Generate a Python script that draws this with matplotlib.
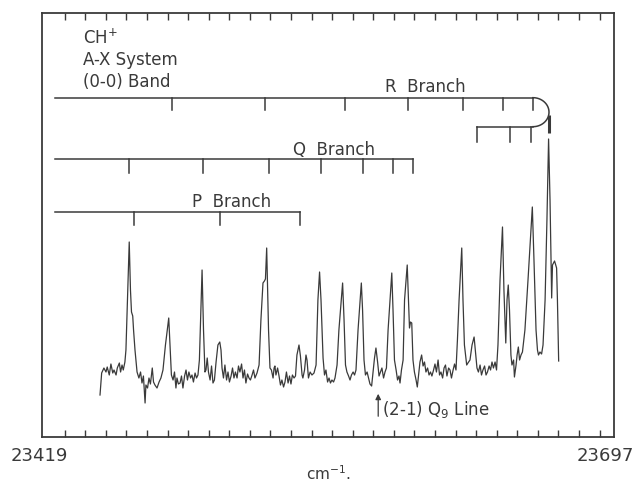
import numpy as np
import matplotlib.pyplot as plt

# CH+ A-X (0-0) band, recorded trace (cm-1, arbitrary intensity)
wavenumber = [
    23447.2, 23448.0, 23449.1, 23450.1, 23450.7, 23451.7, 23452.5, 23453.4, 23454.0, 23455.0,
    23455.6, 23456.6, 23457.2, 23457.9, 23458.5, 23459.3, 23459.8, 23461.4, 23462.0, 23462.5,
    23463.1, 23463.5, 23464.2, 23465.2, 23466.1, 23466.9, 23467.6, 23468.3, 23469.1, 23469.5,
    23470.3, 23471.0, 23471.7, 23472.6, 23473.2, 23473.9, 23474.9, 23475.9, 23476.8, 23477.8,
    23479.0, 23480.6, 23481.2, 23481.9, 23482.7, 23483.4, 23484.1, 23484.6, 23485.3, 23486.1,
    23486.8, 23487.5, 23488.3, 23489.0, 23489.7, 23490.4, 23491.2, 23491.9, 23492.6, 23493.4,
    23494.1, 23494.8, 23495.5, 23496.8, 23497.5, 23498.2, 23498.7, 23499.3, 23499.9, 23500.7,
    23501.4, 23502.1, 23502.8, 23503.6, 23504.5, 23505.4, 23506.0, 23506.5, 23507.2, 23507.9,
    23508.7, 23509.4, 23510.1, 23510.9, 23511.6, 23512.3, 23513.0, 23513.8, 23514.5, 23515.2,
    23516.0, 23516.7, 23517.4, 23518.1, 23518.9, 23519.6, 23520.3, 23521.1, 23521.8, 23522.5,
    23523.5, 23524.5, 23525.4, 23526.4, 23527.1, 23527.6, 23528.2, 23528.6, 23529.1, 23529.8,
    23530.5, 23531.3, 23531.8, 23532.2, 23532.7, 23533.5, 23534.2, 23534.9, 23535.6, 23536.4,
    23537.1, 23537.8, 23538.6, 23539.3, 23540.0, 23540.7, 23541.5, 23542.2, 23542.9, 23543.9,
    23544.6, 23545.4, 23545.8, 23546.6, 23547.3, 23547.8, 23548.5, 23549.3, 23550.2, 23551.2,
    23552.2, 23553.1, 23553.9, 23554.6, 23555.6, 23556.3, 23557.0, 23557.8, 23558.5, 23559.2,
    23559.9, 23560.7, 23561.4, 23562.4, 23563.3, 23565.1, 23565.8, 23566.5, 23567.2, 23568.0,
    23568.7, 23569.4, 23570.2, 23570.9, 23571.6, 23572.6, 23574.2, 23574.8, 23575.5, 23576.2,
    23577.0, 23577.7, 23578.4, 23579.2, 23579.9, 23580.6, 23581.3, 23582.1, 23582.8, 23583.5,
    23584.2, 23585.0, 23585.7, 23586.4, 23587.2, 23589.0, 23589.6, 23590.3, 23591.1, 23591.8,
    23592.5, 23593.0, 23593.7, 23594.5, 23595.2, 23596.5, 23597.1, 23597.6, 23598.1, 23598.7,
    23599.3, 23600.0, 23600.8, 23601.4, 23602.0, 23602.7, 23603.5, 23604.2, 23604.9, 23605.6,
    23606.4, 23607.1, 23607.8, 23608.5, 23609.3, 23610.0, 23610.7, 23611.5, 23612.2, 23612.9,
    23613.7, 23614.4, 23615.1, 23615.8, 23616.6, 23617.3, 23618.0, 23618.8, 23619.5, 23620.2,
    23620.9, 23621.7, 23623.0, 23623.6, 23624.3, 23625.4, 23626.0, 23627.0, 23628.0, 23629.0,
    23629.7, 23630.4, 23631.1, 23631.9, 23632.6, 23633.3, 23634.1, 23634.8, 23635.5, 23636.3,
    23637.0, 23637.7, 23638.4, 23639.2, 23639.9, 23640.6, 23641.6, 23642.8, 23643.5, 23644.4,
    23645.0, 23645.6, 23646.2, 23646.9, 23647.4, 23648.2, 23648.6, 23649.4, 23649.9, 23650.5,
    23651.1, 23651.8, 23652.5, 23653.7, 23655.2, 23657.3, 23658.1, 23659.1, 23659.8, 23660.3,
    23661.0, 23661.8, 23662.5, 23663.5, 23664.4, 23665.2, 23665.9, 23666.7, 23667.1, 23668.1,
    23669.1, 23669.5, 23670.1,
]
intensity = [
    42, 64, 69, 65, 70, 62, 73, 64, 67, 62,
    69, 74, 65, 72, 67, 75, 87, 195, 147, 125,
    121, 107, 87, 65, 59, 65, 54, 61, 34, 52,
    49, 59, 53, 69, 55, 52, 49, 55, 59, 67,
    92, 119, 92, 62, 57, 65, 49, 59, 53, 54,
    61, 49, 61, 67, 57, 65, 59, 62, 55, 64,
    59, 62, 77, 167, 107, 65, 67, 79, 65, 57,
    71, 54, 57, 75, 92, 95, 87, 69, 59, 72,
    57, 65, 55, 61, 69, 59, 65, 59, 71, 65,
    73, 59, 67, 54, 63, 59, 57, 62, 67, 59,
    64, 72, 117, 154, 156, 158, 189, 152, 107, 69,
    67, 59, 69, 71, 62, 69, 61, 52, 57, 50,
    55, 65, 54, 61, 53, 62, 59, 61, 82, 92,
    81, 62, 59, 67, 82, 77, 59, 65, 62, 64,
    72, 137, 165, 137, 79, 62, 67, 55, 59, 54,
    57, 55, 59, 72, 107, 154, 117, 72, 65, 61,
    57, 62, 65, 62, 67, 107, 154, 127, 77, 62,
    65, 59, 53, 51, 65, 79, 89, 75, 61, 65,
    69, 59, 65, 69, 107, 164, 127, 77, 67, 57,
    61, 54, 67, 77, 137, 172, 137, 109, 115, 114,
    77, 65, 57, 50, 62, 75, 82, 71, 75, 65,
    69, 62, 65, 61, 67, 73, 65, 77, 62, 65,
    59, 69, 72, 61, 69, 67, 59, 67, 73, 67,
    97, 137, 189, 137, 92, 72, 74, 77, 92, 100,
    85, 69, 65, 72, 62, 67, 71, 62, 65, 71,
    67, 75, 69, 75, 67, 92, 157, 210, 147, 94,
    137, 152, 127, 82, 72, 77, 60, 72, 82, 90,
    77, 82, 85, 107, 157, 230, 177, 107, 87, 82,
    85, 83, 92, 137, 217, 298, 237, 139, 172, 176,
    169, 137, 76,
]

# line positions marked on the branch combs (cm-1)
r_upper = [23482.3, 23527.4, 23566.4, 23596.7, 23623.8, 23642.9, 23657.8]
r_lower = [23630.3, 23646.5, 23656.5]
q_lines = [23461.4, 23497.4, 23529.2, 23554.8, 23575.2, 23589.4, 23599.5]
p_lines = [23463.7, 23505.5, 23544.4]

x_min, x_max = 23419, 23697

ink = '#3a3a3a'

fig = plt.figure(figsize=(6.4, 4.86), dpi=100)
ax = fig.add_axes([0.0656, 0.1008, 0.8938, 0.8725])

ax.plot(wavenumber, intensity, color=ink, lw=0.9)


def comb(start, end, level, ticks, depth):
    ax.plot([start, end], [level, level], color=ink, lw=1.1)
    for t in ticks:
        ax.plot([t, t], [level, level - depth], color=ink, lw=1.1)


comb(23425.3, 23657.6, 339.3, r_upper, 12)
comb(23630.3, 23657.6, 310.3, r_lower, 15)
comb(23425.3, 23599.5, 277.7, q_lines, 14)
comb(23425.3, 23544.4, 225.3, p_lines, 13)

# R branch turning back at the band head
t = np.linspace(np.pi / 2, -np.pi / 2, 60)
ax.plot(23657.6 + 7.8 * np.cos(t), 324.8 + 14.5 * np.sin(t), color=ink, lw=1.1)
ax.plot([23665.4, 23665.4], [322, 304], color=ink, lw=2.2, solid_capstyle='butt')

txt = dict(color=ink, fontsize=12)
ax.text(23438.9, 393.7, 'CH$^{+}$', va='baseline', **txt)
ax.text(23438.9, 372, 'A-X System', va='baseline', **txt)
ax.text(23438.9, 350, '(0-0) Band', va='baseline', **txt)
ax.text(23605.1, 345.3, 'R  Branch', ha='center', va='baseline', **txt)
ax.text(23560.9, 282, 'Q  Branch', ha='center', va='baseline', **txt)
ax.text(23510.9, 230.3, 'P  Branch', ha='center', va='baseline', **txt)

ax.annotate('', xy=(23582.4, 46), xytext=(23582.4, 18),
            arrowprops=dict(arrowstyle='-|>', color=ink, lw=0.9, mutation_scale=8))
ax.text(23584.1, 22, '(2-1) Q$_{9}$ Line', va='baseline', **txt)

ax.set_xlim(x_min, x_max)
ax.set_ylim(0, 424)
ax.set_yticks([])
ax.set_xticks([])
ax.set_xticks(np.arange(23430, 23691, 10), minor=True)
ax.tick_params(axis='x', which='minor', direction='in', length=5, width=1,
               top=True, bottom=True, color=ink)
for s in ax.spines.values():
    s.set_color(ink)
    s.set_linewidth(1.3)

# range end labels under the frame corners
for x, dx in [(x_min, -2), (x_max, -6)]:
    ax.annotate(str(x), xy=(x, 0), xycoords=('data', 'axes fraction'),
                xytext=(dx, -7), textcoords='offset points',
                ha='center', va='top', fontsize=13, color=ink)

fig.text(0.5125, 0.012, 'cm$^{-1}$.', ha='center', va='baseline', fontsize=11, color=ink)

fig.savefig('out.png', dpi=100)
